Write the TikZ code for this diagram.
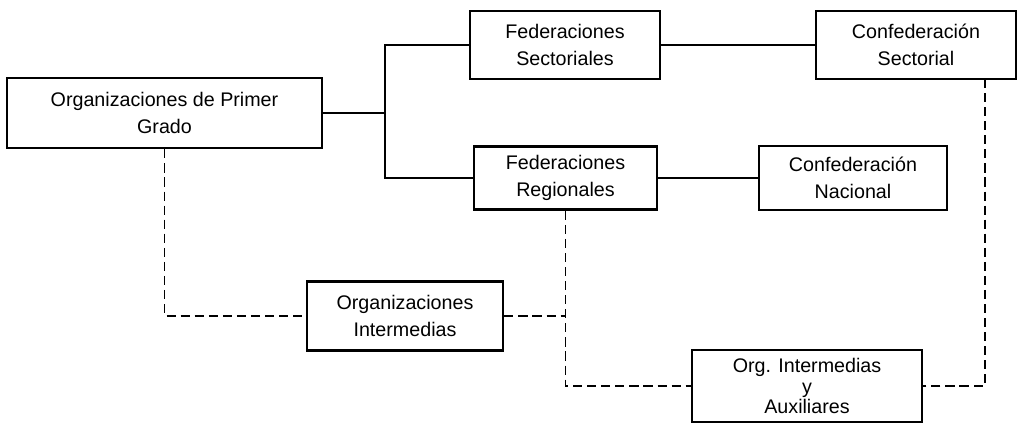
\documentclass[tikz,border=0pt]{standalone}
\usepackage{fontspec}
\setmainfont{Liberation Sans}

\begin{document}
\begin{tikzpicture}[x=0.025cm, y=-0.025cm,
		caja/.style={rectangle, draw, line width=1.9pt, align=center, inner sep=0pt,
			font=\fontsize{14}{19}\selectfont},
		linea/.style={line width=0.9pt},
		trazos/.style={line width=1pt, dash pattern=on 6.5pt off 3.5pt}]
				\useasboundingbox (0, 0) rectangle (1028, 424);

				\node[caja, minimum width=315*0.025cm, minimum height=70*0.025cm] (A) at (164.5, 113) {Organizaciones de Primer\\Grado};
				\node[caja, minimum width=190*0.025cm, minimum height=68*0.025cm] (FS) at (565, 45) {Federaciones\\Sectoriales};
				\node[caja, minimum width=200*0.025cm, minimum height=68*0.025cm] (CS) at (916, 45) {Confederación\\Sectorial};
				\node[caja, minimum width=183*0.025cm, minimum height=63*0.025cm] (FR) at (565.5, 178) {Federaciones\\Regionales};
				\node[caja, minimum width=188*0.025cm, minimum height=64*0.025cm] (CN) at (853, 178) {Confederación\\Nacional};
				\node[caja, minimum width=196*0.025cm, minimum height=69*0.025cm] (OI) at (405, 316) {Organizaciones\\Intermedias};
				\node[caja, minimum width=230*0.025cm, minimum height=72*0.025cm,
					font=\fontsize{14}{14.5}\selectfont] (OIA) at (807, 386) {Org. Intermedias\\y\\Auxiliares};

				\coordinate (bus) at (385, 113);
				\coordinate (cs1) at (985, 79);

				% líneas continuas
				\draw[linea] (A.east) -- (bus);
				\draw[linea] (FS.west) -| (bus) |- (FR.west);
				\draw[linea] (FS.east) -- (CS.west);
				\draw[linea] (FR.east) -- (CN.west);

				% líneas de trazos
				\draw[trazos] (A.south) |- (OI.west);
				\draw[trazos] (OI.east) -- (OI.east -| FR.south);
				\draw[trazos] (FR.south) |- (OIA.west);
				\draw[trazos] (cs1) |- (OIA.east);
			\end{tikzpicture}
\end{document}
